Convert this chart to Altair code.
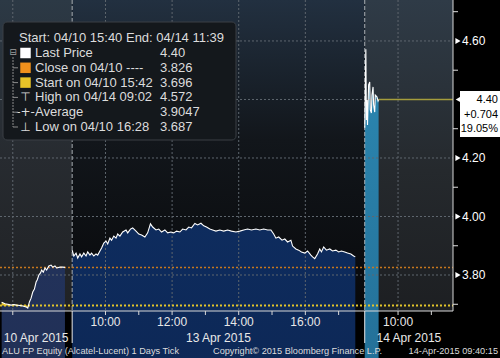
import altair as alt
import pandas as pd

FONT = "Liberation Sans"
W, H = 453, 311

# ---------------- data ----------------
# 10 Apr 2015 session: minutes after 15:40
apr10_min = [0, 6, 11, 17, 22, 27, 33, 38, 44, 47, 50, 53, 56, 59, 62, 64, 67, 70, 72, 75,
             78, 81, 85, 89, 92, 96, 99, 105, 110, 114]
apr10_px = [3.707, 3.702, 3.700, 3.697, 3.699, 3.697, 3.696, 3.694, 3.691, 3.687,
            3.708, 3.721, 3.742, 3.752, 3.776, 3.783, 3.800, 3.807, 3.817, 3.810,
            3.824, 3.817, 3.831, 3.834, 3.827, 3.831, 3.824, 3.827, 3.827, 3.826]
# 13 Apr 2015 session: minutes after 09:00
apr13_min = [0, 3, 7, 10, 14, 17, 21, 25, 28, 32, 35, 39, 43, 46, 50, 53, 57, 61, 64, 68,
             71, 75, 79, 82, 86, 91, 97, 100, 105, 109, 115, 120, 125, 131, 136, 141, 145,
             151, 156, 161, 167, 172, 178, 183, 188, 194, 199, 205, 210, 215, 221, 226, 232,
             237, 242, 248, 253, 259, 266, 273, 280, 287, 295, 302, 309, 316, 323, 331, 338,
             345, 352, 358, 363, 367, 372, 378, 383, 388, 394, 397, 403, 408, 413, 419, 424,
             430, 433, 437, 442, 446, 449, 453, 458, 464, 469, 475, 480, 485, 491, 496, 502,
             507, 510]
apr13_px = [3.885, 3.865, 3.875, 3.858, 3.872, 3.862, 3.875, 3.865, 3.879, 3.868, 3.875,
            3.865, 3.872, 3.868, 3.882, 3.892, 3.909, 3.916, 3.906, 3.926, 3.919, 3.933,
            3.926, 3.940, 3.933, 3.947, 3.954, 3.944, 3.957, 3.961, 3.950, 3.940, 3.937,
            3.930, 3.944, 3.975, 3.964, 3.954, 3.957, 3.947, 3.954, 3.944, 3.947, 3.944,
            3.950, 3.947, 3.957, 3.954, 3.964, 3.961, 3.976, 3.971, 3.977, 3.968, 3.964,
            3.957, 3.954, 3.950, 3.954, 3.950, 3.954, 3.950, 3.947, 3.950, 3.954, 3.957,
            3.954, 3.957, 3.954, 3.957, 3.954, 3.954, 3.940, 3.926, 3.930, 3.919, 3.923,
            3.913, 3.919, 3.899, 3.889, 3.885, 3.879, 3.875, 3.882, 3.868, 3.862, 3.856,
            3.872, 3.889, 3.879, 3.896, 3.885, 3.889, 3.882, 3.885, 3.879, 3.882, 3.879,
            3.875, 3.872, 3.865, 3.862]
# 14 Apr 2015 session: minutes after 09:00
apr14_min = [0, 2, 3, 4, 5, 7, 9, 10, 12, 13, 15, 16, 18, 19, 22, 24, 25]
apr14_px = [4.303, 4.572, 4.330, 4.398, 4.313, 4.450, 4.460, 4.364, 4.354, 4.415, 4.443,
            4.381, 4.357, 4.415, 4.409, 4.395, 4.400]

start_px, close_px, last_px = 3.696, 3.826, 4.40
session_offsets = [0, 127, 654]           # axis minutes where each session begins
x_domain = [-3, 813]
y_domain = [3.677, 4.740]

grid_y = [3.8, 4.0, 4.2, 4.4, 4.6]
minor_y = [3.7, 3.9, 4.1, 4.3, 4.5, 4.7]
label_y = [3.8, 4.0, 4.2, 4.6]
label_y_txt = ["3.80", "4.00", "4.20", "4.60"]
grid_t = [20, 187, 307, 427, 547, 714]
tick_t = [20, 187, 247, 307, 367, 427, 487, 547, 607, 714, 774]
time_lab_t = [187, 307, 427, 547, 714]
time_lab = ["10:00", "12:00", "14:00", "16:00", "10:00"]
day_lab = ["10 Apr 2015", "13 Apr 2015", "14 Apr 2015"]
sess_bounds = [(-3, 127), (127, 654), (654, 813)]

leg_head = "Start: 04/10 15:40 End: 04/14 11:39"
leg_labels = ["Last Price", "Close on 04/10 ----", "Start on 04/10 15:42",
              "High on 04/14 09:02", "Average", "Low on 04/10 16:28"]
leg_values = ["4.40", "3.826", "3.696", "4.572", "3.9047", "3.687"]
leg_icons = ["#ffffff", "#f0901c", "#e8c428"]
leg_syms = ["⊤", "-+-", "⊥"]
box_txt = ["4.40", "+0.704", "19.05%"]

# ---------------- frames ----------------
p10 = pd.DataFrame({"t": [m + session_offsets[0] for m in apr10_min], "v": apr10_px, "s": "a"})
p13 = pd.DataFrame({"t": [m + session_offsets[1] for m in apr13_min], "v": apr13_px, "s": "b"})
p14 = pd.DataFrame({"t": [m + session_offsets[2] for m in apr14_min], "v": apr14_px, "s": "c"})
price = pd.concat([p10, p13, p14], ignore_index=True)
one = pd.DataFrame({"a": [0]})

xs = alt.Scale(domain=x_domain, nice=False, zero=False)
ys = alt.Scale(domain=y_domain, nice=False, zero=False)


def X(f="t"):
    return alt.X(f"{f}:Q", scale=xs, axis=None)


def Y(f="v"):
    return alt.Y(f"{f}:Q", scale=ys, axis=None)


def grad(stops):
    return alt.Gradient(gradient="linear",
                        stops=[alt.GradientStop(offset=o, color=c) for o, c in stops],
                        x1=0, x2=0, y1=0, y2=1)


layers = []
# session backgrounds
bg_grads = [
    [(0, "#2c3945"), (0.5, "#272b30"), (1, "#202225")],
    [(0, "#223040"), (0.45, "#12161b"), (1, "#08090b")],
    [(0, "#2f3b47"), (0.55, "#25292d"), (1, "#1d1f22")],
]
for (a, b), g in zip(sess_bounds, bg_grads):
    layers.append(alt.Chart(pd.DataFrame({"t0": [a], "t1": [b]})).mark_rect(color=grad(g)).encode(
        x=X("t0"), x2="t1", y=alt.value(0), y2=alt.value(H)))

# areas under price
area_grads = [
    [(0, "#22325a"), (1, "#151d36")],
    [(0, "#0e2c5e"), (1, "#050b22")],
    [(0, "#2c88b2"), (0.45, "#1c5a80"), (1, "#12304c")],
]
for df, g in zip([p10, p13, p14], area_grads):
    layers.append(alt.Chart(df).mark_area(color=grad(g)).encode(
        x=X(), y=Y(), y2=alt.value(H)))

# yellow band near the start price
layers.append(alt.Chart(p10[p10.t <= 47]).mark_area(color="#e6c21e").encode(
    x=X(), y=Y(), y2=alt.datum(start_px)))

# grid lines
layers.append(alt.Chart(pd.DataFrame({"v": grid_y})).mark_rule(
    color="#5e666e", strokeDash=[2, 2], strokeWidth=1).encode(
    y=Y(), x=alt.value(0), x2=alt.value(W)))
layers.append(alt.Chart(pd.DataFrame({"t": grid_t})).mark_rule(
    color="#5e666e", strokeDash=[2, 2], strokeWidth=1).encode(
    x=X(), y=alt.value(0), y2=alt.value(H)))
layers.append(alt.Chart(pd.DataFrame({"t": session_offsets[1:]})).mark_rule(
    color="#a8adb2", strokeDash=[4, 2], strokeWidth=1).encode(
    x=X(), y=alt.value(0), y2=alt.value(H)))

# close / start reference lines
layers.append(alt.Chart(pd.DataFrame({"v": [close_px]})).mark_rule(
    color="#c8781e", strokeDash=[2, 2], strokeWidth=1.5).encode(
    y=Y(), x=alt.value(0), x2=alt.value(W)))
layers.append(alt.Chart(pd.DataFrame({"v": [start_px]})).mark_rule(
    color="#e2c42a", strokeDash=[2, 2], strokeWidth=2).encode(
    y=Y(), x=alt.value(0), x2=alt.value(W)))
# last price line
layers.append(alt.Chart(pd.DataFrame({"t": [p14.t.iloc[-1]], "t2": [x_domain[1]], "v": [last_px]})).mark_rule(
    color="#a59d3c", strokeWidth=1.5).encode(x=X(), x2="t2", y=Y()))

# price line
layers.append(alt.Chart(price).mark_line(color="#ffffff", strokeWidth=1.1).encode(
    x=X(), y=Y(), detail="s:N"))

# plot borders
layers.append(alt.Chart(one).mark_rule(color="#d8d8d8").encode(
    x=alt.value(W), y=alt.value(0), y2=alt.value(H)))
layers.append(alt.Chart(one).mark_rule(color="#d8d8d8").encode(
    y=alt.value(H), x=alt.value(0), x2=alt.value(W)))

# right axis
layers.append(alt.Chart(pd.DataFrame({"v": minor_y})).mark_rule(color="#e0e0e0").encode(
    y=Y(), x=alt.value(W), x2=alt.value(W + 5)))
layers.append(alt.Chart(pd.DataFrame({"v": label_y})).mark_point(
    shape="triangle-right", filled=True, size=36, color="#ffffff", opacity=1).encode(
    y=Y(), x=alt.value(W + 5)))
layers.append(alt.Chart(pd.DataFrame({"v": label_y, "lab": label_y_txt})).mark_text(
    align="left", baseline="middle", fontSize=12, color="#ffffff", font=FONT).encode(
    y=Y(), x=alt.value(W + 9), text="lab:N"))

# last price box
layers.append(alt.Chart(pd.DataFrame({"v": [last_px]})).mark_point(
    shape="triangle-left", filled=True, size=150, color="#ffffff", opacity=1).encode(
    y=Y(), x=alt.value(W + 8)))
layers.append(alt.Chart(one).mark_rect(color="#ffffff").encode(
    x=alt.value(W + 7), x2=alt.value(500), y=alt.value(91), y2=alt.value(137)))
layers.append(alt.Chart(pd.DataFrame({"txt": box_txt, "ly": [100, 115, 129]})).mark_text(
    align="right", baseline="middle", fontSize=11, color="#000000", font=FONT).encode(
    x=alt.value(498), y=alt.Y("ly:Q", scale=None), text="txt:N"))

# bottom axis
layers.append(alt.Chart(pd.DataFrame({"t": tick_t})).mark_rule(color="#d8d8d8").encode(
    x=X(), y=alt.value(H), y2=alt.value(H + 4)))
layers.append(alt.Chart(pd.DataFrame({"t": session_offsets[1:]})).mark_rule(color="#e8e8e8").encode(
    x=X(), y=alt.value(H), y2=alt.value(H + 32)))
layers.append(alt.Chart(pd.DataFrame({"t": time_lab_t, "lab": time_lab})).mark_text(
    align="center", baseline="middle", fontSize=12, color="#e8e8e8", font=FONT).encode(
    x=X(), y=alt.value(H + 11), text="lab:N"))
layers.append(alt.Chart(pd.DataFrame({"t": [(a + b) / 2 for a, b in sess_bounds], "lab": day_lab})).mark_text(
    align="center", baseline="middle", fontSize=12, color="#e8e8e8", font=FONT).encode(
    x=X(), y=alt.value(H + 27), text="lab:N"))

# footer
for txt, xp, al in [("ALU FP Equity (Alcatel-Lucent) 1 Days  Tick", 2, "left"),
                    ("Copyright\u00a9 2015 Bloomberg Finance L.P.", 213, "left"),
                    ("14-Apr-2015 09:40:15", 498, "right")]:
    layers.append(alt.Chart(one).mark_text(
        align=al, baseline="middle", fontSize=9.2, color="#dcdcdc", font=FONT).encode(
        x=alt.value(xp), y=alt.value(351), text=alt.value(txt)))

# legend box
layers.append(alt.Chart(one).mark_rect(fill="#14181c", stroke="#3a3f45", strokeWidth=1,
                                       cornerRadius=4).encode(
    x=alt.value(3), x2=alt.value(236), y=alt.value(22), y2=alt.value(140)))
layers.append(alt.Chart(one).mark_text(
    align="left", baseline="middle", fontSize=13, color="#dcdcdc", font=FONT).encode(
    x=alt.value(19), y=alt.value(38), text=alt.value(leg_head)))
row_y = [53 + i * 14.8 for i in range(len(leg_labels))]
leg = pd.DataFrame({"lab": leg_labels, "val": leg_values, "ly": row_y})
layers.append(alt.Chart(leg).mark_text(
    align="left", baseline="middle", fontSize=13, color="#dcdcdc", font=FONT).encode(
    x=alt.value(35), y=alt.Y("ly:Q", scale=None), text="lab:N"))
layers.append(alt.Chart(leg).mark_text(
    align="left", baseline="middle", fontSize=13, color="#dcdcdc", font=FONT).encode(
    x=alt.value(160), y=alt.Y("ly:Q", scale=None), text="val:N"))
icons = pd.DataFrame({"c": leg_icons, "ly": row_y[:3]})
layers.append(alt.Chart(icons).mark_square(size=110, filled=True, opacity=1).encode(
    x=alt.value(25.5), y=alt.Y("ly:Q", scale=None), color=alt.Color("c:N", scale=None)))
syms = pd.DataFrame({"sym": leg_syms, "ly": row_y[3:]})
layers.append(alt.Chart(syms).mark_text(
    align="center", baseline="middle", fontSize=12, color="#dcdcdc", font="DejaVu Sans").encode(
    x=alt.value(25.5), y=alt.Y("ly:Q", scale=None), text="sym:N"))
# tree decoration
layers.append(alt.Chart(one).mark_text(
    align="center", baseline="middle", fontSize=9, color="#a0a0a0", font="DejaVu Sans").encode(
    x=alt.value(13), y=alt.value(row_y[0] - 1), text=alt.value("⊟")))
layers.append(alt.Chart(one).mark_rule(color="#8a8a8a", strokeDash=[2, 1]).encode(
    x=alt.value(13), y=alt.value(row_y[0] + 4), y2=alt.value(row_y[-1])))
layers.append(alt.Chart(pd.DataFrame({"ly": row_y[1:]})).mark_rule(color="#8a8a8a").encode(
    x=alt.value(13), x2=alt.value(18), y=alt.Y("ly:Q", scale=None)))

chart = alt.layer(*layers).properties(
    width=W, height=H,
    padding={"left": 0, "top": 0, "right": 500 - W, "bottom": 358 - H},
    autosize="none",
    background="#000000",
).configure_view(stroke=None)

chart.save("out.html", embed_options={"renderer": "svg", "actions": False})
